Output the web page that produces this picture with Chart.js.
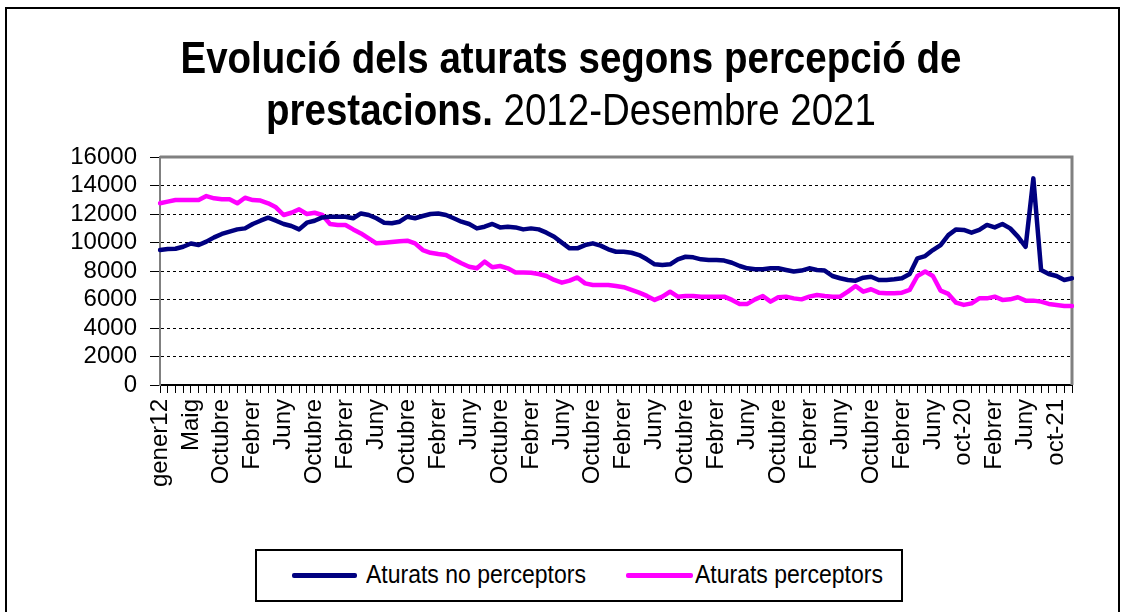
<!DOCTYPE html>
<html>
<head>
<meta charset="utf-8">
<script src="https://cdn.jsdelivr.net/npm/chart.js@4.4.0/dist/chart.umd.min.js"></script>
<style>
  html, body { margin: 0; padding: 0; background: #fff; }
  #wrap { position: relative; width: 1125px; height: 612px; overflow: hidden; font-family: "Liberation Sans", Arial, sans-serif; }
  #frame { position: absolute; left: 5px; top: 7px; width: 1111px; height: 660px; border: 2px solid #000; }
  #chart { position: absolute; left: 0; top: 0; }
  #title { position: absolute; left: 0; top: 32px; width: 1142px; text-align: center; font-size: 38.5px; line-height: 46px; color: #000; transform: scaleY(1.13); transform-origin: top; }
  #title b { font-weight: bold; }
  #legend { position: absolute; left: 255px; top: 549px; width: 644px; height: 49px; border: 2px solid #000; background: #fff; }
  .swatch { position: absolute; top: 22px; height: 5px; border-radius: 2px; }
  .label { position: absolute; top: 10px; font-size: 23px; line-height: 26px; color: #000; white-space: nowrap; transform: scaleY(1.1); transform-origin: center; }
</style>
</head>
<body>
<div id="wrap">
  <div id="frame"></div>
  <canvas id="chart" width="1125" height="612"></canvas>
  <div id="title"><b>Evolució dels aturats segons percepció de<br>prestacions.</b> 2012-Desembre 2021</div>
  <div id="legend">
    <div class="swatch" style="left:35px;width:65px;background:#000080"></div>
    <div class="label" style="left:109px">Aturats no perceptors</div>
    <div class="swatch" style="left:369px;width:67px;background:#ff00ff"></div>
    <div class="label" style="left:438px">Aturats perceptors</div>
  </div>
</div>
<script>
// labels shown under the axis, one every 4 months (gener 2012 .. desembre 2021)
const tickLabels = ["gener12", "Maig", "Octubre", "Febrer", "Juny", "Octubre", "Febrer", "Juny",
  "Octubre", "Febrer", "Juny", "Octubre", "Febrer", "Juny", "Octubre", "Febrer", "Juny",
  "Octubre", "Febrer", "Juny", "Octubre", "Febrer", "Juny", "Octubre", "Febrer", "Juny",
  "oct-20", "Febrer", "Juny", "oct-21"];
const monthCount = 119;

const noPerceptors = [
  9470, 9540, 9560, 9700, 9930, 9820, 10060, 10360, 10600, 10760, 10920, 10990,
  11300, 11530, 11740, 11530, 11300, 11160, 10920, 11390, 11530, 11760, 11810, 11810,
  11810, 11700, 12040, 11930, 11700, 11390, 11350, 11460, 11810, 11700, 11860, 12000,
  12040, 11930, 11700, 11460, 11300, 10990, 11110, 11300, 11060, 11110, 11060, 10920,
  10990, 10920, 10690, 10410, 9990, 9590, 9590, 9820, 9940, 9780, 9520, 9350,
  9350, 9280, 9120, 8820, 8470, 8420, 8470, 8820, 9000, 8960, 8820, 8770,
  8770, 8730, 8580, 8350, 8190, 8120, 8120, 8190, 8190, 8070, 7960, 8030,
  8190, 8070, 8030, 7650, 7490, 7370, 7320, 7530, 7600, 7370, 7370, 7420,
  7490, 7790, 8890, 9050, 9470, 9820, 10520, 10920, 10880, 10690, 10880, 11230,
  11060, 11300, 10990, 10410, 9700, 14500, 8070, 7790, 7650, 7370, 7490
];
const perceptors = [
  12750, 12870, 12980, 12980, 12980, 12980, 13260, 13100, 13030, 13030, 12750, 13140,
  12980, 12940, 12750, 12470, 11930, 12090, 12330, 12000, 12090, 11930, 11300, 11230,
  11230, 10920, 10640, 10290, 9940, 9990, 10030, 10080, 10130, 9940, 9470, 9280,
  9190, 9120, 8820, 8540, 8300, 8190, 8660, 8260, 8350, 8190, 7890, 7890,
  7880, 7790, 7650, 7370, 7180, 7320, 7550, 7130, 7020, 7020, 7020, 6950,
  6860, 6670, 6480, 6250, 5970, 6200, 6550, 6200, 6250, 6250, 6200, 6200,
  6200, 6200, 5970, 5690, 5690, 6010, 6250, 5850, 6160, 6200, 6080, 6010,
  6200, 6320, 6250, 6200, 6200, 6550, 6950, 6550, 6720, 6480, 6440, 6440,
  6480, 6670, 7650, 7960, 7650, 6620, 6390, 5780, 5620, 5730, 6080, 6080,
  6200, 5970, 6010, 6160, 5920, 5920, 5850, 5690, 5620, 5550, 5550
];

const categories = [];
for (let i = 0; i < monthCount; i++) {
  categories.push(i % 4 === 0 ? tickLabels[i / 4] : '');
}

// gray frame on top and right of the plot area, like the spreadsheet chart
const plotFrame = {
  id: 'plotFrame',
  beforeDatasetsDraw(chart) {
    const ctx = chart.ctx;
    const a = chart.chartArea;
    ctx.save();
    ctx.strokeStyle = '#808080';
    ctx.lineWidth = 3;
    ctx.beginPath();
    ctx.moveTo(a.left, a.top);
    ctx.lineTo(a.right, a.top);
    ctx.lineTo(a.right, a.bottom);
    ctx.stroke();
    ctx.restore();
  }
};

Chart.defaults.font.family = '"Liberation Sans", Arial, sans-serif';
Chart.defaults.color = '#000';

new Chart(document.getElementById('chart').getContext('2d'), {
  type: 'line',
  data: {
    labels: categories,
    datasets: [
      {
        label: 'Aturats no perceptors',
        data: noPerceptors,
        borderColor: '#000080',
        borderWidth: 4.5,
        tension: 0,
        pointRadius: 0,
        borderJoinStyle: 'round',
        borderCapStyle: 'round'
      },
      {
        label: 'Aturats perceptors',
        data: perceptors,
        borderColor: '#ff00ff',
        borderWidth: 4.5,
        tension: 0,
        pointRadius: 0,
        borderJoinStyle: 'round',
        borderCapStyle: 'round'
      }
    ]
  },
  options: {
    responsive: false,
    animation: false,
    events: [],
    layout: { padding: { top: 157, right: 53, left: 0, bottom: 0 } },
    plugins: {
      legend: { display: false },
      tooltip: { enabled: false }
    },
    scales: {
      x: {
        offset: false,
        afterFit(scale) { scale.height = 227; },
        grid: { drawOnChartArea: false, tickLength: 8, tickColor: '#000', tickWidth: 1 },
        border: { color: '#000', width: 2 },
        ticks: {
          autoSkip: false,
          maxRotation: 90,
          minRotation: 90,
          padding: 6,
          font: { size: 24 },
          color: '#000'
        }
      },
      y: {
        min: 0,
        max: 16000,
        afterFit(scale) { scale.width = 160; },
        grid: { color: '#000', lineWidth: 1, tickLength: 10, tickColor: '#000' },
        border: { color: '#808080', width: 2, dash: [3, 3] },
        ticks: {
          stepSize: 2000,
          autoSkip: false,
          padding: 13,
          font: { size: 24 },
          color: '#000',
          callback: value => String(value)
        }
      }
    }
  },
  plugins: [plotFrame]
});
</script>
</body>
</html>
